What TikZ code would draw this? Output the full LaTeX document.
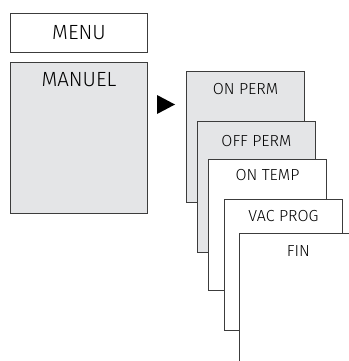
\documentclass[tikz,border=0pt]{standalone}
\usepackage{fontspec}
\setmainfont{Fira Sans Light}
\usepackage{xcolor}
\usetikzlibrary{positioning}
\definecolor{panelgray}{RGB}{228,229,231}
\definecolor{edgegray}{RGB}{60,60,60}

\begin{document}
\begin{tikzpicture}[x=1pt,y=-1pt,
 box/.style={draw=edgegray,line width=0.9pt,rectangle,anchor=north west,inner sep=0pt},
 menubox/.style={box,fill=white,minimum width=137pt,minimum height=39pt},
 pagebox/.style={box,minimum width=118pt,minimum height=131pt},
 bigtext/.style={font=\fontsize{20.5}{24}\selectfont,text=black,inner sep=0pt},
 smalltext/.style={font=\fontsize{16}{19}\selectfont,text=black,inner sep=0pt}]
 \useasboundingbox (0,0) rectangle (348,361);

 \node[menubox] (menu) at (10,13) {};
 \node[bigtext] (menutxt) at (menu.center) {MENU};
 \node[box,fill=panelgray,minimum width=137pt,minimum height=151pt] (manuel) at (10,62) {};
 \node[bigtext,below=10pt of manuel.north] (manueltxt) {MANUEL};

 \draw[fill=black,draw=none] (157,95) -- (157,114) -- (175,104.5) -- cycle;

 % pages of the sub menu
 \node[pagebox,fill=panelgray] (onperm) at (186,71) {};
 \node[smalltext,below=12pt of onperm.north] (onpermtxt) {ON PERM};
 \node[pagebox,fill=panelgray] (offperm) at (197,121) {};
 \node[smalltext,below=14pt of offperm.north] (offpermtxt) {OFF PERM};
 \node[pagebox,fill=white] (ontemp) at (208,159) {};
 \node[smalltext,below=10pt of ontemp.north] (ontemptxt) {ON TEMP};
 \node[pagebox,fill=white] (vacprog) at (224,199) {};
 \node[smalltext,below=11pt of vacprog.north] (vacprogtxt) {VAC PROG};
 \node[pagebox,fill=white] (fin) at (239,233) {};
 \node[smalltext,below=12pt of fin.north] (fintxt) {FIN};
\end{tikzpicture}
\end{document}
